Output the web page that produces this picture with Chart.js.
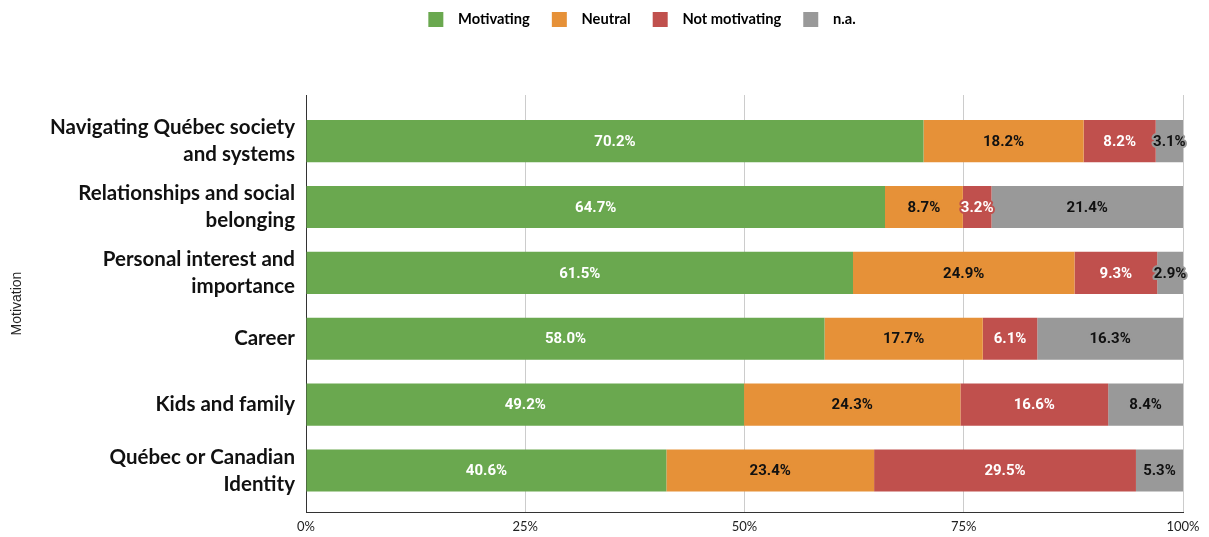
<!DOCTYPE html>
<html>
<head>
<meta charset="utf-8">
<title>Motivation</title>
<script src="https://cdn.jsdelivr.net/npm/chart.js@4"></script>
<style>
  html, body { margin: 0; padding: 0; background: #ffffff; }
  #wrap { width: 1209px; height: 537px; position: relative; }
</style>
</head>
<body>
<div id="wrap"><canvas id="chart"></canvas></div>
<script>
// Motivation categories (top to bottom), each split into display lines
const categories = [
  ["Navigating Québec society", "and systems"],
  ["Relationships and social", "belonging"],
  ["Personal interest and", "importance"],
  ["Career"],
  ["Kids and family"],
  ["Québec or Canadian", "Identity"]
];

// Share of respondents (%) per answer
const motivating    = [70.2, 64.7, 61.5, 58.0, 49.2, 40.6];
const neutral       = [18.2,  8.7, 24.9, 17.7, 24.3, 23.4];
const notMotivating = [ 8.2,  3.2,  9.3,  6.1, 16.6, 29.5];
const notApplicable = [ 3.1, 21.4,  2.9, 16.3,  8.4,  5.3];

const xTicks = [0, 25, 50, 75, 100];

const seriesNames  = ["Motivating", "Neutral", "Not motivating", "n.a."];
const seriesValues = [motivating, neutral, notMotivating, notApplicable];
const seriesColors = ["#6aa84f", "#e69138", "#c0504d", "#999999"];
const labelColors  = ["#ffffff", "#111111", "#ffffff", "#111111"];

// Each row is drawn as a 100% stacked bar
const rowTotals = categories.map((_, i) =>
  seriesValues.reduce((s, arr) => s + arr[i], 0));

const datasets = seriesValues.map((vals, k) => ({
  label: seriesNames[k],
  data: vals.map((v, i) => ({ x: v / rowTotals[i] * 100, y: i })),
  backgroundColor: seriesColors[k],
  borderWidth: 0,
  categoryPercentage: 1,
  barPercentage: 0.64
}));

// Value labels centred in each segment, with a halo in the segment colour
const segmentLabels = {
  id: 'segmentLabels',
  afterDatasetsDraw(chart) {
    const ctx = chart.ctx;
    ctx.save();
    ctx.font = 'bold 15px Roboto';
    ctx.textAlign = 'center';
    ctx.textBaseline = 'middle';
    ctx.lineJoin = 'round';
    chart.data.datasets.forEach((ds, k) => {
      const meta = chart.getDatasetMeta(k);
      meta.data.forEach((bar, i) => {
        const text = seriesValues[k][i].toFixed(1) + '%';
        const cx = (bar.x + bar.base) / 2;
        const cy = bar.y + 1;
        ctx.lineWidth = 4;
        ctx.strokeStyle = seriesColors[k];
        ctx.strokeText(text, cx, cy);
        ctx.fillStyle = labelColors[k];
        ctx.fillText(text, cx, cy);
      });
    });
    ctx.restore();
  }
};

new Chart(document.getElementById('chart'), {
  type: 'bar',
  data: { datasets },
  plugins: [segmentLabels],
  options: {
    indexAxis: 'y',
    responsive: true,
    maintainAspectRatio: false,
    animation: false,
    // negative right padding + empty right gutter keeps the legend centred at x≈642
    layout: { padding: { left: 0, right: -75, top: -10, bottom: 0 } },
    plugins: {
      tooltip: { enabled: false },
      legend: {
        position: 'top',
        align: 'center',
        labels: {
          boxWidth: 15,
          boxHeight: 15,
          padding: 22,
          color: '#222222',
          font: { family: 'Lato', weight: 'bold', size: 14.7 },
          generateLabels(chart) {
            return chart.data.datasets.map((ds, k) => ({
              text: '\u2002' + ds.label,
              fillStyle: ds.backgroundColor,
              strokeStyle: ds.backgroundColor,
              lineWidth: 0,
              hidden: false,
              datasetIndex: k
            }));
          }
        }
      },
      // blank spacer between legend and plot
      title: {
        display: true,
        text: '',
        position: 'top',
        weight: 500,
        font: { size: 10, lineHeight: 1 },
        padding: { top: 48, bottom: 0 }
      }
    },
    scales: {
      x: {
        type: 'linear',
        stacked: true,
        min: 0,
        max: 100,
        afterBuildTicks(s) { s.ticks = xTicks.map(v => ({ value: v })); },
        afterFit(s) { s.height = 25; },
        ticks: {
          padding: 7,
          color: '#222222',
          font: { family: 'Lato', size: 13 },
          callback: v => v + '%'
        },
        grid: {
          drawTicks: false,
          color: ctx => ctx.tick && ctx.tick.value === 0 ? 'rgba(0,0,0,0)' : '#cccccc',
          lineWidth: 1
        },
        border: { display: true, color: '#333333', width: 1 }
      },
      y: {
        type: 'linear',
        stacked: true,
        reverse: true,
        offset: false,
        min: -0.70,
        max: 5.63,
        afterBuildTicks(s) { s.ticks = categories.map((_, i) => ({ value: i })); },
        afterFit(s) {
          s.width = 306;
          s.paddingTop = 0;
          s.paddingBottom = 0;
        },
        ticks: {
          padding: 11,
          color: '#111111',
          font: { family: 'Lato', weight: 'bold', size: 20.5, lineHeight: 1.32 },
          callback: v => categories[v]
        },
        grid: { display: false, drawTicks: false, offset: false },
        border: { display: true, color: '#333333', width: 1 },
        title: {
          display: true,
          text: 'Motivation',
          color: '#222222',
          font: { family: 'Liberation Sans', size: 14 },
          padding: { top: 9, bottom: 0 }
        }
      },
      gutter: {
        type: 'linear',
        position: 'right',
        display: true,
        ticks: { display: false },
        grid: { display: false, drawTicks: false },
        border: { display: false },
        afterFit(s) { s.width = 101; s.paddingTop = 0; s.paddingBottom = 0; }
      }
    }
  }
});
</script>
</body>
</html>
